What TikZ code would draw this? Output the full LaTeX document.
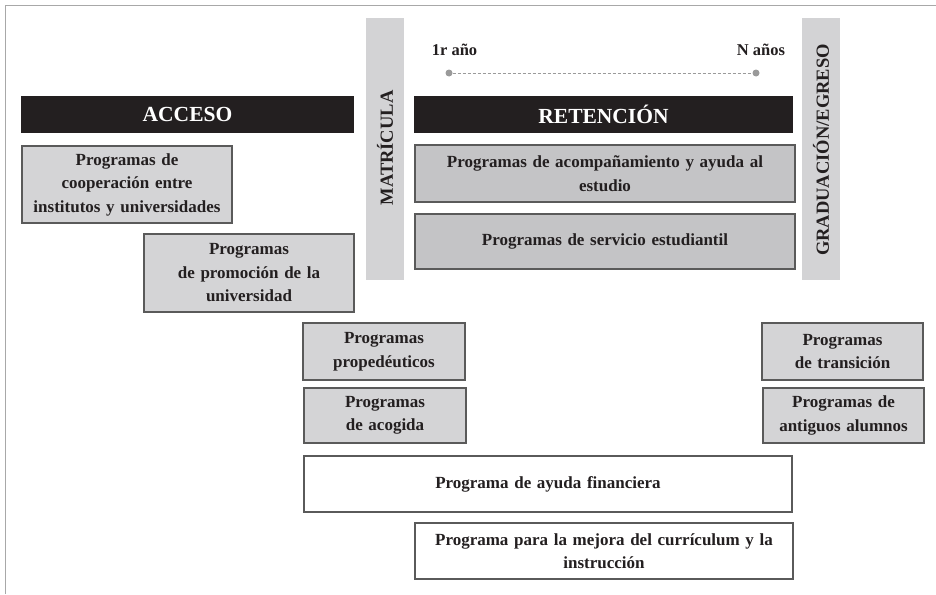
\documentclass[tikz,border=0pt]{standalone}
\usepackage{fontspec}
\setmainfont{Liberation Serif}
\definecolor{frame}{HTML}{A8A8A8}
\definecolor{bargray}{HTML}{D3D3D5}
\definecolor{boxlight}{HTML}{D4D4D6}
\definecolor{boxdark}{HTML}{C4C4C6}
\definecolor{boxline}{HTML}{5A5A5A}
\definecolor{dotgray}{HTML}{9A9A9A}
\definecolor{hdr}{HTML}{231F20}
\tikzset{
  prog/.style={draw=boxline, line width=2.2pt, fill=boxlight, inner sep=0pt,
    align=center, font=\bfseries\fontsize{17}{23.5}\selectfont, text=hdr},
  progdark/.style={prog, fill=boxdark},
  progwhite/.style={prog, fill=white},
  header/.style={fill=hdr, inner sep=0pt, text=white,
    font=\bfseries\fontsize{21.5}{24}\selectfont},
  vbar/.style={fill=bargray, inner sep=0pt},
  vlabel/.style={rotate=90, font=\bfseries\fontsize{18.5}{21}\selectfont, text=hdr},
  yearlbl/.style={font=\bfseries\fontsize{16.5}{18}\selectfont, text=hdr},
  dot/.style={circle, fill=dotgray, inner sep=0pt, minimum size=7pt}
}
\begin{document}
\begin{tikzpicture}[x=1pt,y=-1pt]
\useasboundingbox (0,0) rectangle (936,594);
% frame
\draw[frame, line width=1.6pt] (5.5,594) -- (5.5,5.5) -- (936,5.5);
% vertical bars
\node[vbar, minimum width=38pt, minimum height=262pt] (matbar) at (385,149) {};
\node[vlabel] (mat) at (385,148) {MATRÍCULA};
\node[vbar, minimum width=38pt, minimum height=262pt] (gradbar) at (821,149) {};
\node[vlabel] (grad) at (821,150) {GRADUACIÓN/EGRESO};
% headers
\node[header, minimum width=333pt, minimum height=37pt] (acceso) at (187.5,114.5) {ACCESO};
\node[header, minimum width=379pt, minimum height=37pt] (reten) at (603.5,114.5) {RETENCIÓN};
% timeline
\node[yearlbl] (y1) at (454.5,49.5) {1r año};
\node[yearlbl] (yn) at (761,49.5) {N años};
\node[dot] (d1) at (449,73) {};
\node[dot] (dn) at (756,73) {};
\draw[dotgray, line width=0.9pt, dash pattern=on 3pt off 2pt] (d1) -- (dn);
% access boxes
\node[prog, minimum width=210pt, minimum height=77pt, text width=205pt] (coop) at (127,184.5)
  {Programas de\\cooperación entre\\institutos y universidades};
\node[prog, minimum width=210pt, minimum height=78pt, text width=205pt] (promo) at (249,273)
  {Programas\\de promoción de la\\universidad};
\node[prog, minimum width=162pt, minimum height=57pt, text width=158pt] (prope) at (384,351.5)
  {Programas\\propedéuticos};
\node[prog, minimum width=162pt, minimum height=55pt, text width=158pt] (acog) at (385,415.5)
  {Programas\\de acogida};
% retention boxes
\node[progdark, minimum width=380pt, minimum height=57pt, text width=370pt] (acomp) at (605,173.5)
  {Programas de acompañamiento y ayuda al\\estudio};
\node[progdark, minimum width=380pt, minimum height=55pt, text width=370pt] (serv) at (605,241.5)
  {Programas de servicio estudiantil};
% graduation boxes
\node[prog, minimum width=161pt, minimum height=57pt, text width=157pt] (trans) at (842.5,351.5)
  {Programas\\de transición};
\node[prog, minimum width=161pt, minimum height=55pt, text width=157pt] (antig) at (843.5,415.5)
  {Programas de\\antiguos alumnos};
% white boxes
\node[progwhite, minimum width=488pt, minimum height=56pt, text width=480pt] (finan) at (548,484)
  {Programa de ayuda financiera};
\node[progwhite, minimum width=378pt, minimum height=56pt, text width=370pt] (curric) at (604,551)
  {Programa para la mejora del currículum y la\\instrucción};
\end{tikzpicture}
\end{document}
